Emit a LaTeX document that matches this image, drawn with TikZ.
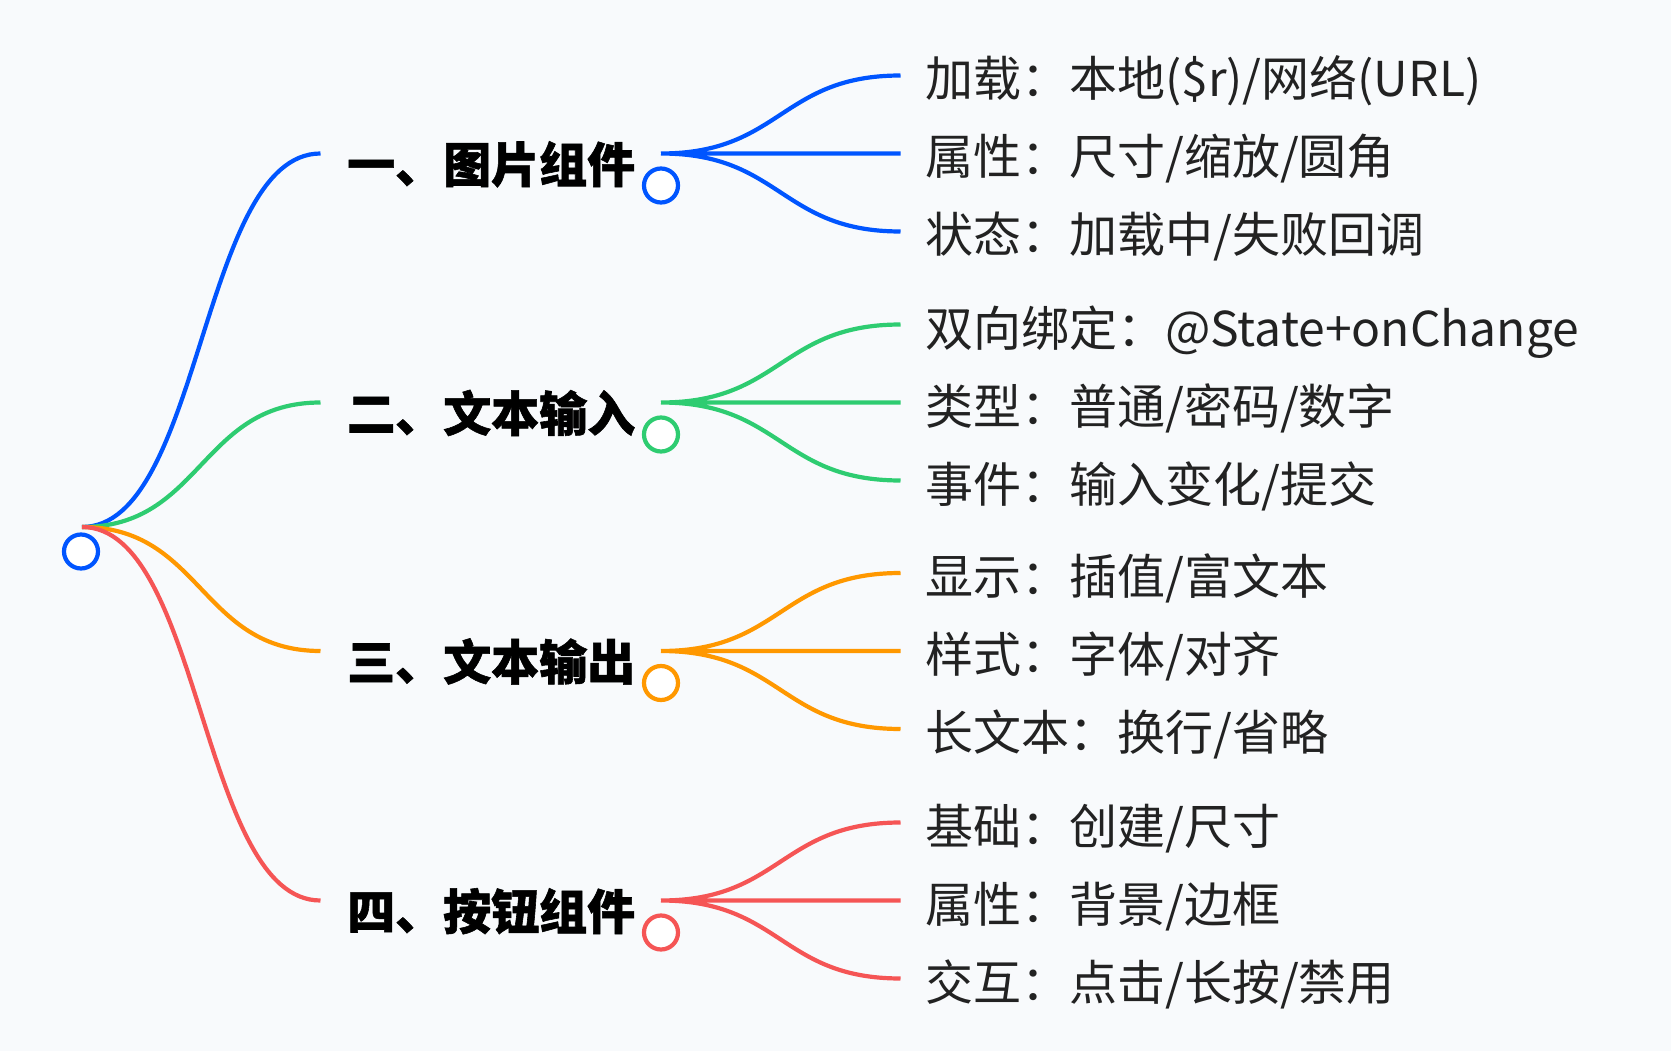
\documentclass[tikz,border=0pt]{standalone}
\usepackage{fontspec}
\usepackage{tikz}
\usetikzlibrary{positioning}
\newfontfamily\cjk[BoldFeatures={FakeBold=1.2}]{Noto Sans CJK SC}
\definecolor{cbg}{HTML}{F8FAFC}
\definecolor{cblue}{HTML}{0055FF}
\definecolor{cgreen}{HTML}{2ECC71}
\definecolor{corange}{HTML}{FF9800}
\definecolor{cred}{HTML}{F55555}
\definecolor{ctext}{HTML}{222222}
\newcommand{\headfont}{\cjk\bfseries\fontsize{48}{56}\selectfont}
\newcommand{\leaffont}{\cjk\fontsize{48}{56}\selectfont}

\begin{document}
\begin{tikzpicture}[x=1pt,y=-1pt,
  dot/.style={circle,draw,line width=4.2pt,fill=white,minimum size=34pt,inner sep=0pt},
  head/.style={anchor=base west,inner sep=0pt,font=\headfont,text=black},
  leaf/.style={anchor=base west,inner sep=0pt,font=\leaffont,text=ctext},
  lnk/.style={line width=4.2pt},
  sway/.style={to path={.. controls +(120,0) and +(-120,0) .. (\tikztotarget)}}]
\fill[cbg] (0,0) rectangle (1671,1051);
\useasboundingbox (0,0) rectangle (1671,1051);
% root
\coordinate (r0) at (82,527);
% first level
\coordinate (n1in) at (320.5,153.5);  \coordinate (n1out) at (661,153.5);
\coordinate (n2in) at (320.5,402.5);  \coordinate (n2out) at (661,402.5);
\coordinate (n3in) at (320.5,651);    \coordinate (n3out) at (661,651);
\coordinate (n4in) at (320.5,900.5);  \coordinate (n4out) at (661,900.5);
\node[head] (n1) at (347,182.5) {一、图片组件};
\node[head] (n2) at (347,431.5) {二、文本输入};
\node[head] (n3) at (347,680)   {三、文本输出};
\node[head] (n4) at (347,929.5) {四、按钮组件};
% leaves
\coordinate (l11in) at (900.5,75.5);  \coordinate (l12in) at (900.5,153.5);  \coordinate (l13in) at (900.5,231.5);
\coordinate (l21in) at (900.5,324.5); \coordinate (l22in) at (900.5,402.5);  \coordinate (l23in) at (900.5,480.5);
\coordinate (l31in) at (900.5,573);   \coordinate (l32in) at (900.5,651);    \coordinate (l33in) at (900.5,729);
\coordinate (l41in) at (900.5,822.5); \coordinate (l42in) at (900.5,900.5);  \coordinate (l43in) at (900.5,978.5);
\node[leaf] (l11) at (925,97)    {加载：本地(\$r)/网络(URL)};
\node[leaf] (l12) at (925,175)   {属性：尺寸/缩放/圆角};
\node[leaf] (l13) at (925,253)   {状态：加载中/失败回调};
\node[leaf] (l21) at (925,346)   {双向绑定：@State+onChange};
\node[leaf] (l22) at (925,424)   {类型：普通/密码/数字};
\node[leaf] (l23) at (925,502)   {事件：输入变化/提交};
\node[leaf] (l31) at (925,594.5) {显示：插值/富文本};
\node[leaf] (l32) at (925,672.5) {样式：字体/对齐};
\node[leaf] (l33) at (925,750.5) {长文本：换行/省略};
\node[leaf] (l41) at (925,844)   {基础：创建/尺寸};
\node[leaf] (l42) at (925,922)   {属性：背景/边框};
\node[leaf] (l43) at (925,1000)  {交互：点击/长按/禁用};
% links
\draw[lnk,cblue]   (r0) to[sway] (n1in);
\draw[lnk,cgreen]  (r0) to[sway] (n2in);
\draw[lnk,corange] (r0) to[sway] (n3in);
\draw[lnk,cred]    (r0) to[sway] (n4in);
\draw[lnk,cblue]   (n1out) to[sway] (l11in) (n1out) to[sway] (l12in) (n1out) to[sway] (l13in);
\draw[lnk,cgreen]  (n2out) to[sway] (l21in) (n2out) to[sway] (l22in) (n2out) to[sway] (l23in);
\draw[lnk,corange] (n3out) to[sway] (l31in) (n3out) to[sway] (l32in) (n3out) to[sway] (l33in);
\draw[lnk,cred]    (n4out) to[sway] (l41in) (n4out) to[sway] (l42in) (n4out) to[sway] (l43in);
% circles
\node[dot,draw=cblue]   (root) at (81,551.5) {};
\node[dot,draw=cblue]   (d1) at (661,185.5) {};
\node[dot,draw=cgreen]  (d2) at (661,434.5) {};
\node[dot,draw=corange] (d3) at (661,683)   {};
\node[dot,draw=cred]    (d4) at (661,932.5) {};
\end{tikzpicture}
\end{document}
